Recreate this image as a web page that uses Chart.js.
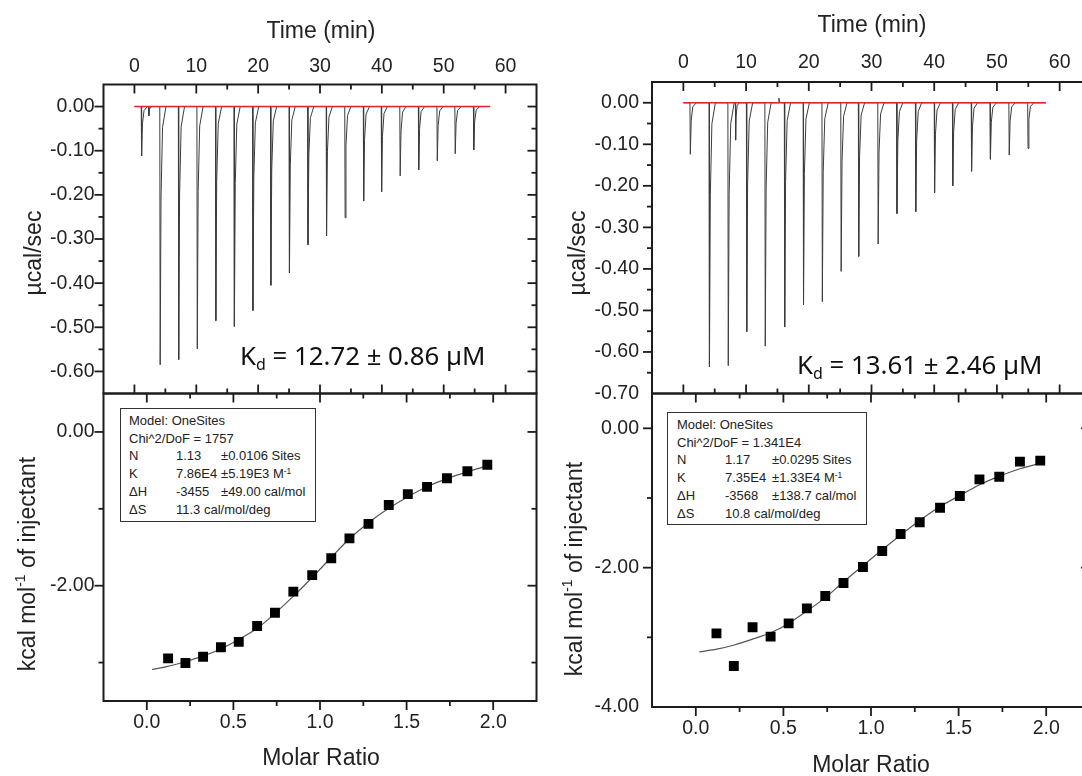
<!DOCTYPE html>
<html>
<head>
<meta charset="utf-8">
<script src="https://cdn.jsdelivr.net/npm/chart.js@4.4.1/dist/chart.umd.min.js"></script>
<style>
  html, body { margin: 0; padding: 0; background: #fff; overflow: hidden; width: 1082px; height: 776px; }
  canvas { position: absolute; left: 0; top: 0; }
  .t { position: absolute; transform: translate(-50%, -50%); white-space: nowrap;
       font-family: "Liberation Sans", Arial, sans-serif; font-size: 23px; color: #222; }
  .v { transform: translate(-50%, -50%) rotate(-90deg); }
  .t sup { font-size: 60%; position: relative; top: -0.1em; vertical-align: top; }
  .kd { position: absolute; transform: translateY(-50%); white-space: nowrap;
        font-family: "Noto Sans", "Open Sans", sans-serif; font-size: 25.8px; color: #111; }
  .kd sub { font-size: 62%; vertical-align: baseline; position: relative; top: 0.3em; }
  .fit { position: absolute; box-sizing: border-box; border: 1.5px solid #333; background: #fff;
         font-family: "Liberation Sans", Arial, sans-serif; font-size: 13px; color: #222; line-height: 17.7px; }
  .fit span { display: inline-block; }
  .fit sup { font-size: 65%; vertical-align: top; position: relative; top: -0.2em; }
</style>
</head>
<body>
<canvas id="topL" width="1100" height="776"></canvas>
<canvas id="botL" width="1100" height="776"></canvas>
<canvas id="topR" width="1100" height="776"></canvas>
<canvas id="botR" width="1100" height="776"></canvas>

<!-- axis titles -->
<div class="t" style="left:321px;top:30px">Time (min)</div>
<div class="t v" style="left:33px;top:253px">µcal/sec</div>
<div class="t v" style="left:27px;top:564px">kcal mol<sup>-1</sup> of injectant</div>
<div class="t" style="left:321px;top:757px">Molar Ratio</div>

<div class="t" style="left:872px;top:24px">Time (min)</div>
<div class="t v" style="left:577px;top:253px">µcal/sec</div>
<div class="t v" style="left:574px;top:569px">kcal mol<sup>-1</sup> of injectant</div>
<div class="t" style="left:871px;top:764px">Molar Ratio</div>

<div class="kd" style="left:240px;top:355px">K<sub>d</sub> = 12.72 ± 0.86 µM</div>
<div class="kd" style="left:797px;top:364px">K<sub>d</sub> = 13.61 ± 2.46 µM</div>

<div class="fit" style="left:120px;top:408px;width:196px;height:114px;padding:3px 0 0 8px">
  <div>Model: OneSites</div>
  <div>Chi^2/DoF = 1757</div>
  <div><span style="width:47px">N</span><span style="width:45px">1.13</span>±0.0106 Sites</div>
  <div><span style="width:47px">K</span><span style="width:45px">7.86E4</span>±5.19E3 M<sup>-1</sup></div>
  <div><span style="width:47px">ΔH</span><span style="width:45px">-3455</span>±49.00 cal/mol</div>
  <div><span style="width:47px">ΔS</span>11.3 cal/mol/deg</div>
</div>
<div class="fit" style="left:667px;top:412px;width:200px;height:113px;padding:3px 0 0 9px">
  <div>Model: OneSites</div>
  <div>Chi^2/DoF = 1.341E4</div>
  <div><span style="width:48px">N</span><span style="width:47px">1.17</span>±0.0295 Sites</div>
  <div><span style="width:48px">K</span><span style="width:47px">7.35E4</span>±1.33E4 M<sup>-1</sup></div>
  <div><span style="width:48px">ΔH</span><span style="width:47px">-3568</span>±138.7 cal/mol</div>
  <div><span style="width:48px">ΔS</span>10.8 cal/mol/deg</div>
</div>

<script>
// tick labels
const timeLabels = [0, 10, 20, 30, 40, 50, 60];
const powerLabelsL = [0, -0.1, -0.2, -0.3, -0.4, -0.5, -0.6];
const powerLabelsR = [0, -0.1, -0.2, -0.3, -0.4, -0.5, -0.6, -0.7];
const heatLabelsL = [0, -2];
const heatLabelsR = [0, -2, -4];
const ratioLabels = [0, 0.5, 1, 1.5, 2];

// raw thermogram, left run (injection time in min, peak minimum in µcal/sec)
const injTimeL = [1.1, 4.1, 7.1, 10.1, 13.1, 16.1, 19.1, 22.0, 25.0, 28.0, 31.0, 34.0, 37.0, 39.9, 42.9, 45.9, 48.9, 51.8, 54.8];
const peakL = [-0.112, -0.585, -0.573, -0.549, -0.485, -0.498, -0.462, -0.405, -0.377, -0.313, -0.293, -0.252, -0.214, -0.193, -0.157, -0.143, -0.123, -0.107, -0.098];
const blipTimeL = [2.3];
const blipL = [-0.021];
const baseEndL = 57.5;

// raw thermogram, right run
const injTimeR = [1.05, 4.1, 7.1, 10.05, 13.0, 16.1, 19.1, 22.1, 25.1, 27.9, 31.0, 34.0, 37.0, 40.0, 42.9, 45.9, 48.9, 51.9, 54.9];
const peakR = [-0.124, -0.636, -0.633, -0.551, -0.586, -0.540, -0.486, -0.479, -0.406, -0.370, -0.340, -0.267, -0.262, -0.217, -0.200, -0.165, -0.136, -0.126, -0.110];
const blipTimeR = [8.3, 15.2];
const blipR = [-0.09, 0.011];
const baseEndR = 57.8;

// shape of one injection peak (min after injection, share of the minimum)
const peakShapeT = [0, 0.06, 0.2, 0.45, 1.0];
const peakShapeF = [0, 1, 0.35, 0.08, 0];

// integrated heats (kcal/mol of injectant)
const ratioL = [0.123, 0.223, 0.325, 0.428, 0.531, 0.637, 0.740, 0.846, 0.955, 1.065, 1.170, 1.280, 1.397, 1.507, 1.618, 1.733, 1.851, 1.966];
const heatL = [-2.946, -3.006, -2.925, -2.800, -2.731, -2.525, -2.353, -2.077, -1.862, -1.643, -1.385, -1.196, -0.951, -0.809, -0.714, -0.602, -0.512, -0.426];
const fitRatioL = [0.03, 0.12, 0.22, 0.32, 0.43, 0.53, 0.64, 0.74, 0.85, 0.96, 1.07, 1.17, 1.28, 1.40, 1.51, 1.62, 1.73, 1.85, 1.97];
const fitHeatL = [-3.09, -3.05, -2.99, -2.92, -2.82, -2.70, -2.55, -2.36, -2.13, -1.88, -1.62, -1.39, -1.18, -0.99, -0.84, -0.71, -0.61, -0.52, -0.44];

const ratioR = [0.118, 0.217, 0.324, 0.427, 0.530, 0.634, 0.739, 0.843, 0.954, 1.064, 1.169, 1.278, 1.394, 1.507, 1.619, 1.732, 1.850, 1.966];
const heatR = [-2.943, -3.411, -2.856, -2.990, -2.799, -2.584, -2.407, -2.220, -1.990, -1.761, -1.517, -1.349, -1.139, -0.971, -0.732, -0.694, -0.478, -0.464];
const fitRatioR = [0.02, 0.12, 0.22, 0.32, 0.43, 0.53, 0.63, 0.74, 0.84, 0.95, 1.06, 1.17, 1.28, 1.39, 1.51, 1.62, 1.73, 1.85, 1.97];
const fitHeatR = [-3.21, -3.17, -3.11, -3.03, -2.93, -2.80, -2.63, -2.43, -2.21, -1.98, -1.75, -1.53, -1.32, -1.13, -0.96, -0.81, -0.69, -0.58, -0.50];

const W = 1100, H = 776;
const FONT = "'Liberation Sans', Arial, sans-serif";

function thermogram(times, peaks, bTimes, bPeaks, end) {
  const pts = [{ x: 0, y: 0 }];
  times.forEach((t, i) => {
    peakShapeT.forEach((dt, k) => pts.push({ x: t + dt, y: peaks[i] * peakShapeF[k] }));
  });
  bTimes.forEach((t, i) => {
    peakShapeT.forEach((dt, k) => pts.push({ x: t + dt * 0.6, y: bPeaks[i] * peakShapeF[k] }));
  });
  pts.push({ x: end, y: 0 });
  return pts.sort((a, b) => a.x - b.x);
}
const xy = (xs, ys) => xs.map((x, i) => ({ x, y: ys[i] }));

// frame around the plot area plus Origin-style in/out ticks
const frameTicks = {
  id: 'frameTicks',
  afterDraw(chart, args, opts) {
    const { ctx, chartArea: a } = chart;
    ctx.save();
    ctx.strokeStyle = '#1c1c1c';
    ctx.lineWidth = 2;
    ctx.strokeRect(a.left, a.top, a.right - a.left, a.bottom - a.top);
    ctx.lineWidth = 1.8;
    opts.marks.forEach(m => {
      const s = chart.scales[m.scale];
      s.ticks.forEach(t => {
        const p = s.getPixelForValue(t.value);
        const horiz = m.edge === 'top' || m.edge === 'bottom';
        if (horiz && (p < a.left + 2 || p > a.right - 2)) return;
        if (!horiz && (p < a.top + 2 || p > a.bottom - 2)) return;
        const len = (t.label !== '' ? 9 : 5) * (m.dir === 'in' ? 1 : -1);
        ctx.beginPath();
        if (m.edge === 'top') { ctx.moveTo(p, a.top); ctx.lineTo(p, a.top + len); }
        if (m.edge === 'bottom') { ctx.moveTo(p, a.bottom); ctx.lineTo(p, a.bottom - len); }
        if (m.edge === 'left') { ctx.moveTo(a.left, p); ctx.lineTo(a.left + len, p); }
        if (m.edge === 'right') { ctx.moveTo(a.right, p); ctx.lineTo(a.right - len, p); }
        ctx.stroke();
      });
    });
    ctx.restore();
  }
};

function axis(pos, min, max, step, labels, digits, pad, size) {
  const horiz = pos === 'top' || pos === 'bottom';
  return {
    type: 'linear', position: pos, min, max,
    afterFit: s => { if (horiz) s.height = size; else s.width = size; },
    // ticks on whole multiples of the step (Origin style), not offset from min
    afterBuildTicks: s => {
      const out = [];
      for (let k = Math.ceil(min / step - 1e-6); k * step <= max + 1e-9; k++) {
        out.push({ value: +(k * step).toFixed(6) });
      }
      s.ticks = out;
    },
    grid: { display: false, drawTicks: false },
    border: { display: false },
    ticks: {
      autoSkip: false, maxRotation: 0, padding: pad,
      color: '#222', font: { family: FONT, size: 19.5 },
      callback: v => {
        if (!labels.some(l => Math.abs(l - v) < 1e-6)) return '';
        const r = Math.abs(v) < 1e-9 ? 0 : v;
        return r.toFixed(digits);
      }
    }
  };
}

function panel(id, frame, xOpt, yOpt, datasets, topPanel) {
  const marks = topPanel
    ? [{ scale: 'x', edge: 'top', dir: 'in' }, { scale: 'x', edge: 'bottom', dir: 'in' },
       { scale: 'y', edge: 'left', dir: 'out' }, { scale: 'y', edge: 'right', dir: 'in' }]
    : [{ scale: 'x', edge: 'bottom', dir: 'out' }, { scale: 'x', edge: 'top', dir: 'in' },
       { scale: 'y', edge: 'left', dir: 'out' }, { scale: 'y', edge: 'right', dir: 'in' }];
  const x = axis(topPanel ? 'top' : 'bottom', xOpt.min, xOpt.max, xOpt.step, xOpt.labels, xOpt.digits, xOpt.pad,
                 topPanel ? frame.t : H - frame.b);
  const y = axis('left', yOpt.min, yOpt.max, yOpt.step, yOpt.labels, 2, yOpt.pad, frame.l);
  new Chart(document.getElementById(id), {
    type: 'line',
    data: { datasets },
    options: {
      responsive: false, animation: false, events: [],
      layout: { padding: { left: 0, right: W - frame.r,
                           top: topPanel ? 0 : frame.t, bottom: topPanel ? H - frame.b : 0 } },
      plugins: { legend: { display: false }, tooltip: { enabled: false }, frameTicks: { marks } },
      scales: { x, y }
    },
    plugins: [frameTicks]
  });
}

const timeAxis = pad => ({ min: -5, max: 65, step: 5, labels: timeLabels, digits: 0, pad });
const ratioAxis = { min: -0.25, max: 2.25, step: 0.25, labels: ratioLabels, digits: 1, pad: 10 };

// left column
panel('topL', { l: 103.5, t: 84.5, r: 536.5, b: 393.5 },
  timeAxis(6),
  { min: -0.65, max: 0.05, step: 0.05, labels: powerLabelsL, pad: 9 },
  [
    { data: [{ x: 0, y: 0 }, { x: baseEndL, y: 0 }], borderColor: '#e3262b', borderWidth: 1.5, pointRadius: 0 },
    { data: thermogram(injTimeL, peakL, blipTimeL, blipL, baseEndL), borderColor: '#3c3c3c', borderWidth: 1, pointRadius: 0 }
  ], true);

panel('botL', { l: 103.5, t: 393.5, r: 536.5, b: 701 },
  ratioAxis,
  { min: -3.5, max: 0.5, step: 1, labels: heatLabelsL, pad: 9 },
  [
    { data: xy(ratioL, heatL), showLine: false, pointStyle: 'rect', pointRadius: 7, backgroundColor: '#000', borderWidth: 0 },
    { data: xy(fitRatioL, fitHeatL), borderColor: '#555', borderWidth: 1.2, pointRadius: 0, tension: 0.3 }
  ], false);

// right column
panel('topR', { l: 652, t: 82, r: 1091, b: 393.5 },
  timeAxis(8),
  { min: -0.70, max: 0.05, step: 0.05, labels: powerLabelsR, pad: 13 },
  [
    { data: [{ x: 0, y: 0 }, { x: baseEndR, y: 0 }], borderColor: '#e3262b', borderWidth: 1.5, pointRadius: 0 },
    { data: thermogram(injTimeR, peakR, blipTimeR, blipR, baseEndR), borderColor: '#3c3c3c', borderWidth: 1, pointRadius: 0 }
  ], true);

panel('botR', { l: 652, t: 393.5, r: 1091, b: 707 },
  ratioAxis,
  { min: -4, max: 0.5, step: 1, labels: heatLabelsR, pad: 13 },
  [
    { data: xy(ratioR, heatR), showLine: false, pointStyle: 'rect', pointRadius: 7, backgroundColor: '#000', borderWidth: 0 },
    { data: xy(fitRatioR, fitHeatR), borderColor: '#555', borderWidth: 1.2, pointRadius: 0, tension: 0.3 }
  ], false);
</script>
</body>
</html>
